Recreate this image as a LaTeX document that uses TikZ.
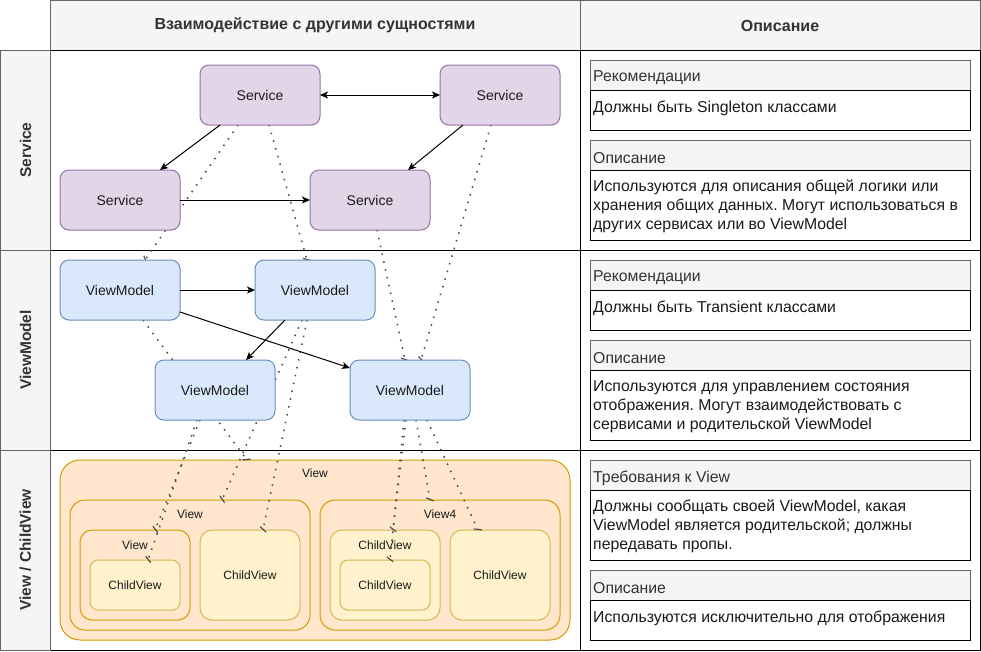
\documentclass[tikz,border=0pt]{standalone}
\usepackage{fontspec}
\setmainfont{Liberation Sans}
\usetikzlibrary{arrows.meta}
\frenchspacing

\definecolor{svcFill}{HTML}{E1D5E7}
\definecolor{svcLine}{HTML}{9673A6}
\definecolor{vmFill}{HTML}{DAE8FC}
\definecolor{vmLine}{HTML}{6C8EBF}
\definecolor{viewFill}{HTML}{FFE6CC}
\definecolor{viewLine}{HTML}{D79B00}
\definecolor{childFill}{HTML}{FFF2CC}
\definecolor{childLine}{HTML}{D6B656}
\definecolor{headFill}{HTML}{F5F5F5}
\definecolor{headLine}{HTML}{666666}
\definecolor{headText}{HTML}{333333}
\definecolor{depGray}{HTML}{454545}
\definecolor{ink}{HTML}{1A1A1A}

\begin{document}
\begin{tikzpicture}[x=1pt,y=-1pt,
  hcell/.style={draw=headLine, fill=headFill, line width=1pt, inner sep=0pt, outer sep=0pt,
    text=headText, font=\bfseries\fontsize{16}{19}\selectfont},
  rtext/.style={rotate=90, inner sep=0pt, text=headText, font=\bfseries\fontsize{15.5}{18}\selectfont},
  cell/.style={draw=black, fill=white, line width=1pt},
  pbox/.style={draw=black, fill=white, line width=1pt, anchor=north west,
    minimum width=380pt, inner sep=0pt, outer sep=0pt},
  phead/.style={pbox, draw=headLine, fill=headFill, minimum height=30pt},
  ptext/.style={anchor=west, inner sep=0pt, align=left, text=ink,
    font=\fontsize{15.8}{19}\selectfont},
  pheadtext/.style={ptext, text=headText},
  box/.style={draw, rounded corners=9pt, minimum width=120pt, minimum height=60pt,
    inner sep=0pt, outer sep=0pt, line width=1pt, text=ink, font=\fontsize{14}{17}\selectfont},
  svc/.style={box, fill=svcFill, draw=svcLine},
  vmod/.style={box, fill=vmFill, draw=vmLine},
  cont/.style={draw=viewLine, fill=viewFill, line width=1pt, inner sep=0pt, outer sep=0pt},
  child/.style={draw=childLine, fill=childFill, line width=1pt, inner sep=0pt, outer sep=0pt,
    text=ink, font=\fontsize{12}{14}\selectfont},
  lbl/.style={inner sep=0pt, text=ink, font=\fontsize{12}{14}\selectfont},
  dep/.style={draw=depGray, line width=1.5pt, dash pattern=on 1.5pt off 6.5pt,
    -{Bar[width=7pt,slant=0.6,line width=1.3pt]}},
  flow/.style={draw=black, line width=1pt, -{Stealth[length=8pt,width=7pt,inset=2pt]}},
  flow2/.style={draw=black, line width=1pt, {Stealth[length=8pt,width=7pt,inset=2pt]}-{Stealth[length=8pt,width=7pt,inset=2pt]}}
]
\useasboundingbox (0,0) rectangle (981,651);

% ---------- table frame ----------
\node[hcell, minimum width=530pt, minimum height=50pt, anchor=north west] (hMid) at (50,0.5)
  {Взаимодействие с другими сущностями};
\node[hcell, minimum width=400pt, minimum height=50pt, anchor=north west] (hRight) at (580,0.5)
  {Описание};

\draw[cell] (50,50) rectangle (580,250);
\draw[cell] (50,250) rectangle (580,450);
\draw[cell] (50,450) rectangle (580,650);
\draw[cell] (580,50) rectangle (980,250);
\draw[cell] (580,250) rectangle (980,450);
\draw[cell] (580,450) rectangle (980,650);

\node[hcell, minimum width=50pt, minimum height=200pt, anchor=north west] (rSvc) at (0.5,50) {};
\node[hcell, minimum width=50pt, minimum height=200pt, anchor=north west] (rVm) at (0.5,250) {};
\node[hcell, minimum width=50pt, minimum height=200pt, anchor=north west] (rView) at (0.5,450) {};
\node[rtext] (rSvcT) at (rSvc.center) {Service};
\node[rtext] (rVmT) at (rVm.center) {ViewModel};
\node[rtext] (rViewT) at (rView.center) {View / ChildView};

% ---------- description panels ----------
\node[phead] (p1h) at (590,60) {};
\node[pbox, minimum height=40pt] (p1b) at (590,90) {};
\node[phead] (p2h) at (590,140) {};
\node[pbox, minimum height=70pt] (p2b) at (590,170) {};
\node[pheadtext] (p1hT) at ([xshift=3pt,yshift=-3pt]p1h.west) {Рекомендации};
\node[ptext] (p1bT) at ([xshift=3pt,yshift=1.5pt]p1b.west) {Должны быть Singleton классами};
\node[pheadtext] (p2hT) at ([xshift=3pt,yshift=-3pt]p2h.west) {Описание};
\node[ptext] (p2bT) at ([xshift=3pt,yshift=-1.5pt]p2b.west)
  {Используются для описания общей логики или\\хранения общих данных. Могут использоваться в\\других сервисах или во ViewModel};

\node[phead] (p3h) at (590,260) {};
\node[pbox, minimum height=40pt] (p3b) at (590,290) {};
\node[phead] (p4h) at (590,340) {};
\node[pbox, minimum height=70pt] (p4b) at (590,370) {};
\node[pheadtext] (p3hT) at ([xshift=3pt,yshift=-3pt]p3h.west) {Рекомендации};
\node[ptext] (p3bT) at ([xshift=3pt,yshift=1.5pt]p3b.west) {Должны быть Transient классами};
\node[pheadtext] (p4hT) at ([xshift=3pt,yshift=-3pt]p4h.west) {Описание};
\node[ptext] (p4bT) at ([xshift=3pt,yshift=-1.5pt]p4b.west)
  {Используются для управлением состояния\\отображения. Могут взаимодействовать с\\сервисами и родительской ViewModel};

\node[phead] (p5h) at (590,460) {};
\node[pbox, minimum height=70pt] (p5b) at (590,490) {};
\node[phead] (p6h) at (590,570) {};
\node[pbox, minimum height=40pt] (p6b) at (590,600) {};
\node[pheadtext] (p5hT) at ([xshift=3pt,yshift=-3pt]p5h.west) {Требования к View};
\node[ptext] (p5bT) at ([xshift=3pt,yshift=-1.5pt]p5b.west)
  {Должны сообщать своей ViewModel, какая\\ViewModel является родительской; должны\\передавать пропы.};
\node[pheadtext] (p6hT) at ([xshift=3pt,yshift=-3pt]p6h.west) {Описание};
\node[ptext] (p6bT) at ([xshift=3pt,yshift=1.5pt]p6b.west) {Используются исключительно для отображения};

% ---------- view containers ----------
\node[cont, rounded corners=20pt, minimum width=510pt, minimum height=180pt] (vOuter) at (315,550) {};
\node[cont, rounded corners=15pt, minimum width=240pt, minimum height=130pt] (vLeft) at (190,565) {};
\node[cont, rounded corners=15pt, minimum width=240pt, minimum height=130pt] (v4) at (440,565) {};
\node[cont, rounded corners=12pt, minimum width=110pt, minimum height=90pt] (vDot) at (135,575) {};
\node[child, rounded corners=8pt, minimum width=90pt, minimum height=50pt] (cvA) at (135,585) {ChildView};
\node[child, rounded corners=12pt, minimum width=100pt, minimum height=90pt] (cvB) at (250,575) {ChildView};
\node[child, rounded corners=12pt, minimum width=110pt, minimum height=90pt] (cvC) at (385,575) {};
\node[child, rounded corners=8pt, minimum width=90pt, minimum height=50pt] (cvCi) at (385,585) {ChildView};
\node[child, rounded corners=12pt, minimum width=100pt, minimum height=90pt] (cvD) at (500,575) {ChildView};

\node[lbl] (vOuterT) at ([yshift=-13.5pt]vOuter.north) {View};
\node[lbl] (vLeftT) at ([yshift=-14pt]vLeft.north) {View};
\node[lbl] (v4T) at ([yshift=-14pt]v4.north) {View4};
\node[lbl] (vDotT) at ([yshift=-15pt]vDot.north) {View};
\node[lbl] (cvCT) at ([yshift=-15pt]cvC.north) {ChildView};

% ---------- service and view-model outlines used as line anchors ----------
\path (260,95) coordinate (s1c) (500,95) coordinate (s2c) (120,200) coordinate (s3c) (370,200) coordinate (s4c)
      (120,290) coordinate (vm1c) (315,290) coordinate (vm2c) (215,390) coordinate (vm3c) (410,390) coordinate (vm4c);
\node[svc, draw=none, fill=none] (s1) at (s1c) {\phantom{Service}};
\node[svc, draw=none, fill=none] (s2) at (s2c) {\phantom{Service}};
\node[svc, draw=none, fill=none] (s4) at (s4c) {\phantom{Service}};
\node[vmod, draw=none, fill=none] (vm1) at (vm1c) {\phantom{ViewModel}};
\node[vmod, draw=none, fill=none] (vm2) at (vm2c) {\phantom{ViewModel}};
\node[vmod, draw=none, fill=none] (vm3) at (vm3c) {\phantom{ViewModel}};
\node[vmod, draw=none, fill=none] (vm4) at (vm4c) {\phantom{ViewModel}};

% ---------- dotted dependency lines ----------
\draw[dep] ([xshift=38pt]s1.south west) -- ([xshift=85pt]vm1.north west);
\draw[dep] ([xshift=69pt]s1.south west) -- ([xshift=52pt]vm2.north west);
\draw[dep] ([xshift=67pt]s4.south west) -- ([xshift=55pt]vm4.north west);
\draw[dep] ([xshift=51pt]s2.south west) -- ([xshift=71pt]vm4.north west);
\draw[dep] ([xshift=83pt]vm1.south west) -- ([xshift=187pt]vOuter.north west);
\draw[dep] ([xshift=47pt]vm2.south west) -- ([xshift=152pt]vLeft.north west);
\draw[dep] ([xshift=52pt]vm2.south west) -- ([xshift=63pt]cvB.north west);
\draw[dep] ([xshift=45pt]vm3.south west) -- ([xshift=75pt]vDot.north west);
\draw[dep] ([xshift=42pt]vm3.south west) -- ([xshift=58pt]cvA.north west);
\draw[dep] ([xshift=56pt]vm4.south west) -- ([xshift=63pt]cvC.north west);
\draw[dep] ([xshift=54pt]vm4.south west) -- ([xshift=50pt]cvCi.north west);
\draw[dep] ([xshift=66pt]vm4.south west) -- ([xshift=110pt]v4.north west);
\draw[dep] ([xshift=77pt]vm4.south west) -- ([xshift=28pt]cvD.north west);

% ---------- boxes drawn over the dotted lines ----------
\node[svc] (s1) at (s1c) {Service};
\node[svc] (s2) at (s2c) {Service};
\node[svc] (s3) at (s3c) {Service};
\node[svc] (s4) at (s4c) {Service};
\node[vmod] (vm1) at (vm1c) {ViewModel};
\node[vmod] (vm2) at (vm2c) {ViewModel};
\node[vmod] (vm3) at (vm3c) {ViewModel};
\node[vmod] (vm4) at (vm4c) {ViewModel};

% ---------- solid calls ----------
\draw[flow2] (s1.east) -- (s2.west);
\draw[flow] ([xshift=20pt]s1.south west) -- ([xshift=100pt]s3.north west);
\draw[flow] ([xshift=23pt]s2.south west) -- ([xshift=98pt]s4.north west);
\draw[flow] (s3.east) -- (s4.west);
\draw[flow] (vm1.east) -- (vm2.west);
\draw[flow] ([yshift=8pt]vm1.south east) -- ([yshift=-8pt]vm4.north west);
\draw[flow] ([xshift=30pt]vm2.south west) -- ([xshift=91pt]vm3.north west);
\end{tikzpicture}
\end{document}
